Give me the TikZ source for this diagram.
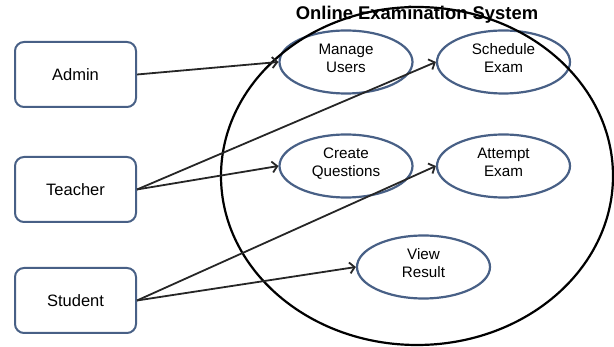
\documentclass[tikz,border=0pt]{standalone}
\usepackage{fontspec}
\setmainfont{Liberation Sans}
\usepackage{tikz}
\usetikzlibrary{arrows.meta,positioning,shapes.geometric}

\definecolor{ucblue}{RGB}{72,96,134}
\definecolor{linegray}{RGB}{38,38,38}

\tikzset{
  actor/.style={draw=ucblue, line width=2pt, rounded corners=9pt,
    minimum width=121pt, minimum height=65pt, inner sep=0pt,
    font=\fontsize{16.5}{19}\selectfont},
  usecase/.style={draw=ucblue, line width=2.2pt, ellipse,
    minimum width=133pt, minimum height=63pt, inner sep=0pt, align=center,
    text depth=8pt, font=\fontsize{15.2}{18}\selectfont},
  assoc/.style={draw=linegray, line width=1.8pt,
    -{Straight Barb[length=5pt,width=11pt,line width=1.8pt]}}
}

\begin{document}
\begin{tikzpicture}[x=1pt, y=-1pt]
  \useasboundingbox (0,0) rectangle (614,347);
  % system boundary
  \pgfmathsetmacro{\sysx}{417}
  \pgfmathsetmacro{\sysy}{176}
  % title of the system
  \node[font=\bfseries\fontsize{18.4}{20}\selectfont, inner sep=0pt] (title) at (\sysx,15) {Online Examination System};
  % actors
  \node[actor] (admin) at (75.5,74.5) {Admin};
  \node[actor] (teacher) at (75.5,189.5) {Teacher};
  \node[actor] (student) at (75.5,300.5) {Student};
  % use cases
  \node[usecase] (manage) at (346,62) {Manage\\Users};
  \node[usecase] (schedule) at (503.5,62) {Schedule\\Exam};
  \node[usecase] (create) at (346,166) {Create\\Questions};
  \node[usecase] (attempt) at (503.5,166) {Attempt\\Exam};
  \node[usecase] (view) at (423.5,267) {View\\Result};
  % boundary drawn over the title
  \draw[black, line width=2.2pt] (\sysx,\sysy) ellipse (196 and 169);
  % associations
  \draw[assoc] (admin.east) -- (manage.west);
  \draw[assoc] (teacher.east) -- (schedule.west);
  \draw[assoc] (teacher.east) -- (create.west);
  \draw[assoc] (student.east) -- (attempt.west);
  \draw[assoc] (student.east) -- (view.west);
\end{tikzpicture}
\end{document}
